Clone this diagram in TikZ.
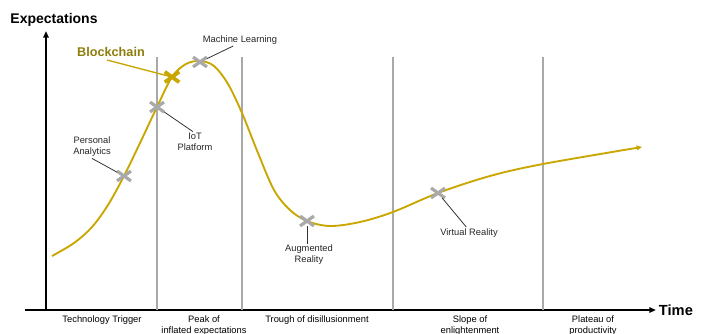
\documentclass[tikz,border=0pt]{standalone}
\usepackage{fontspec}
\setmainfont{Liberation Sans}
\usepackage{xcolor}
\usetikzlibrary{arrows.meta,positioning,shapes.misc}

\definecolor{hypegold}{HTML}{C9A600}
\definecolor{hypeolive}{HTML}{8E7D0C}
\definecolor{markgray}{HTML}{A9A9A9}

\begin{document}
\begin{tikzpicture}[x=0.75pt, y=-0.75pt,
    axis/.style={-{Triangle[length=5pt, width=4pt]}, line width=1.5pt},
    phase/.style={draw=markgray, line width=1pt},
    hype/.style={draw=hypegold, line width=1.4pt},
    hypemark/.style={cross out, draw=markgray, line width=2.4pt, minimum width=8pt, minimum height=5pt, inner sep=0pt},
    tag/.style={font=\fontsize{7}{8.2}\selectfont, align=center, text=black!85, inner sep=1pt},
    lead/.style={draw=black!80, line width=0.6pt},
    stage/.style={font=\fontsize{7}{8.2}\selectfont, align=center, anchor=north, inner sep=0pt}
  ]
    \useasboundingbox (0,0) rectangle (704,333);

    % axes
    \coordinate (xstart) at (25,310);
    \coordinate (origin) at (46,310);
    \coordinate (ytop) at (46,31);
    \node[font=\bfseries\fontsize{10.5}{12}\selectfont, inner sep=0pt] (expect) at (54,20) {Expectations};
    \node[font=\bfseries\fontsize{11}{12}\selectfont, anchor=west, inner sep=2pt] (time) at (656,310) {Time};
    \draw[axis] (origin) -- (ytop);
    \draw[axis] (xstart) -- (time.west);

    % phase separators
    \foreach \x in {157,242,393,543}
      \draw[phase] (\x,57) -- (\x,310);

    % phase names
    \node[stage] (trigger) at (102,315.5) {Technology Trigger};
    \node[stage] (peak) at (204,315.5) {Peak of\\inflated expectations};
    \node[stage] (trough) at (317,315.5) {Trough of disillusionment};
    \node[stage] (slope) at (470,315.5) {Slope of\\enlightenment};
    \node[stage] (plateau) at (593,315.5) {Plateau of\\productivity};

    % hype curve
    \draw[hype, -{Triangle[length=4pt, width=3.5pt]}] plot[smooth, tension=0.55] coordinates {
      (52,256) (74,243) (92,227) (108,205) (124,176) (140,143) (157,107) (172,77)
      (186,64) (200,61) (214,66) (228,84) (242,113) (258,153) (274,190) (290,210)
      (307,221) (330,226) (360,222) (393,212) (438,193) (490,176) (543,164) (642,147)};

    % technologies
    \node[font=\bfseries\fontsize{9.5}{11}\selectfont, text=hypeolive, inner sep=0pt] (bc) at (111,52) {Blockchain};
    \coordinate (bctail) at (107,60);
    \node[tag] (ml) at (240,40) {Machine Learning};
    \node[tag] (iot) at (195,142) {IoT\\Platform};
    \node[tag] (pa) at (92,147) {Personal\\Analytics};
    \node[tag] (ar) at (309,255) {Augmented\\Reality};
    \node[tag] (vr) at (469,233) {Virtual Reality};

    \node[hypemark] (mlx) at (200,62) {};
    \node[hypemark] (iotx) at (157,107) {};
    \node[hypemark] (pax) at (124,176) {};
    \node[hypemark] (arx) at (307,221) {};
    \node[hypemark] (vrx) at (438,193) {};

    \draw[hype, line width=1pt] (bctail) -- (172,77) coordinate (bcpos);
    \node[hypemark, draw=hypegold, line width=2.8pt] (bcx) at (bcpos) {};

    \draw[lead] (mlx) -- ([xshift=-5pt]ml.south);
    \draw[lead] (iotx) -- ([xshift=-1.5pt]iot.north);
    \draw[lead] (pa.south) -- (pax);
    \draw[lead] (arx) -- (arx |- ar.north);
    \draw[lead] (vrx) -- ([xshift=-2pt]vr.north);
  \end{tikzpicture}
\end{document}
